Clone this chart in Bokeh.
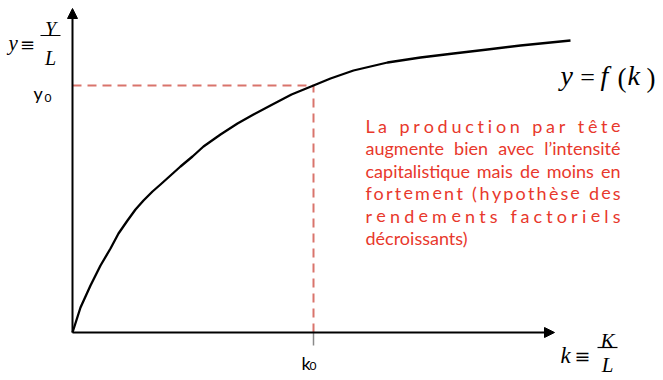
from bokeh.plotting import figure
from bokeh.models import Range1d, Arrow, NormalHead
from bokeh.core.properties import value
from bokeh.embed import file_html
from bokeh.resources import INLINE

# ---------------- data ----------------
k_values = [0, 8, 18, 28, 38, 46, 55, 63, 71, 80, 88, 98, 108, 120, 131, 148, 165, 181, 198, 219, 241, 258, 281, 315, 348, 381, 415, 448, 498]
y_values = [0, 25, 47, 67, 84, 99, 112, 123, 132, 141, 148, 157, 166, 176, 186, 198, 209, 218, 227, 238, 247, 254, 262, 270, 275, 279, 283, 287, 292]
k0 = 241
y0 = 247
k_axis_end = 482
y_axis_end = 324

note_lines = [
    "La production par tête",
    "augmente bien avec l’intensité",
    "capitalistique mais de moins en",
    "fortement (hypothèse des",
    "rendements factoriels",
    "décroissants)",
]
note_modes = ["letters", "words", "words", "letters", "letters", "left"]

# ---------------- helpers (pixel -> data) ----------------
OX, OY = 72, 332


def X(px):
    return px - OX


def Y(py):
    return OY - py


W, H = 663, 380
p = figure(width=W, height=H, output_backend="svg", toolbar_location=None,
           x_range=Range1d(X(0), X(W)), y_range=Range1d(Y(H), Y(0)),
           x_axis_location=None, y_axis_location=None,
           min_border=0, min_border_left=0, min_border_right=0,
           min_border_top=0, min_border_bottom=0)
p.grid.visible = False
p.outline_line_color = None
p.background_fill_color = "white"

DASH = "#d9746c"
RED = "#e8382c"

# dashed guides
p.line([0, k0], [y0, y0], line_color=DASH, line_width=2, line_dash="9 6")
p.line([k0, k0], [0, y0], line_color=DASH, line_width=2, line_dash="9 6")
p.line([k0, k0], [0, -13], line_color="#8a8a8a", line_width=1.5)

# curve
p.line(k_values, y_values, line_color="black", line_width=2.3, line_join="round")

# axes with arrows
p.add_layout(Arrow(end=NormalHead(size=10, fill_color="black", line_color="black"),
                   x_start=0, y_start=0, x_end=k_axis_end, y_end=0,
                   line_color="black", line_width=2))
p.add_layout(Arrow(end=NormalHead(size=10, fill_color="black", line_color="black"),
                   x_start=0, y_start=0, x_end=0, y_end=y_axis_end,
                   line_color="black", line_width=2))

SERIF = value("Liberation Serif")
SANS = value("Lato")
MATH = value("DejaVu Serif")


def lab(px, py, txt, size, font=SERIF, style="italic", align="left", color="black"):
    p.text(x=[X(px)], y=[Y(py)], text=[txt], text_font=font, text_font_style=style,
           text_font_size=f"{size}px", text_align=align, text_baseline="alphabetic",
           text_color=color)


# y = Y/L
lab(8, 42, "y", 21)
lab(27, 44, "≡", 18, font=MATH, style="normal", align="center")
lab(50, 28, "Y", 20, align="center")
p.line([X(40), X(60)], [Y(35), Y(35)], line_color="black", line_width=1.2)
lab(50, 57, "L", 20, align="center")

# k = K/L
lab(560, 355, "k", 23)
lab(582, 355, "≡", 19, font=MATH, style="normal", align="center")
lab(607, 340, "K", 21, align="center")
p.line([X(597), X(617)], [Y(347), Y(347)], line_color="black", line_width=1.2)
lab(607, 364, "L", 21, align="center")

# y = f(k)
lab(560, 75, "y", 28)
lab(587, 77, "=", 26, style="normal", align="center")
lab(600, 75, "f", 28)
lab(617, 77, "(", 27, style="normal")
lab(627, 75, "k", 28)
lab(646, 77, ")", 27, style="normal")

# y0 and k0
lab(33, 92, "y", 18, font=SANS, style="normal")
lab(44, 97, "0", 12, font=SANS, style="normal")
lab(301, 362, "k", 18, font=SANS, style="normal")
lab(309, 365, "0", 12, font=SANS, style="normal")

# justified red note
CW = {"a": .50, "b": .56, "c": .47, "d": .56, "e": .52, "f": .32, "g": .51, "h": .56,
      "i": .25, "j": .25, "k": .51, "l": .25, "m": .84, "n": .56, "o": .56, "p": .56,
      "q": .56, "r": .37, "s": .42, "t": .35, "u": .56, "v": .50, "w": .77, "x": .49,
      "y": .50, "z": .45, "L": .49, " ": .26, "(": .30, ")": .30, "’": .21,
      "é": .52, "è": .52, "ê": .52}
FS = 18
LEFT, RIGHT = 365, 620
baselines = [125, 147, 170, 192, 215, 237]


def tw(s):
    return sum(CW.get(c, .5) for c in s) * FS


xs, ys, ts, al = [], [], [], []
for line, mode, bl in zip(note_lines, note_modes, baselines):
    if mode == "letters":
        chars = list(line)
        nat = tw(line)
        gap = (RIGHT - LEFT - nat) / (len(chars) - 1)
        x = LEFT
        for i, c in enumerate(chars):
            if c != " ":
                if i == len(chars) - 1:
                    xs.append(X(RIGHT)); al.append("right")
                else:
                    xs.append(X(x)); al.append("left")
                ys.append(Y(bl)); ts.append(c)
            x += CW.get(c, .5) * FS + gap
    elif mode == "words":
        words = line.split(" ")
        nat = sum(tw(w) for w in words)
        gap = (RIGHT - LEFT - nat) / (len(words) - 1)
        x = LEFT
        for i, w in enumerate(words):
            if i == len(words) - 1:
                xs.append(X(RIGHT)); al.append("right")
            else:
                xs.append(X(x)); al.append("left")
            ys.append(Y(bl)); ts.append(w)
            x += tw(w) + gap
    else:
        xs.append(X(LEFT)); ys.append(Y(bl)); ts.append(line); al.append("left")

p.text(x=xs, y=ys, text=ts, text_align=al, text_baseline="alphabetic",
       text_font=SANS, text_font_size=f"{FS}px", text_color=RED)

open("out.html", "w").write(file_html(p, INLINE))
